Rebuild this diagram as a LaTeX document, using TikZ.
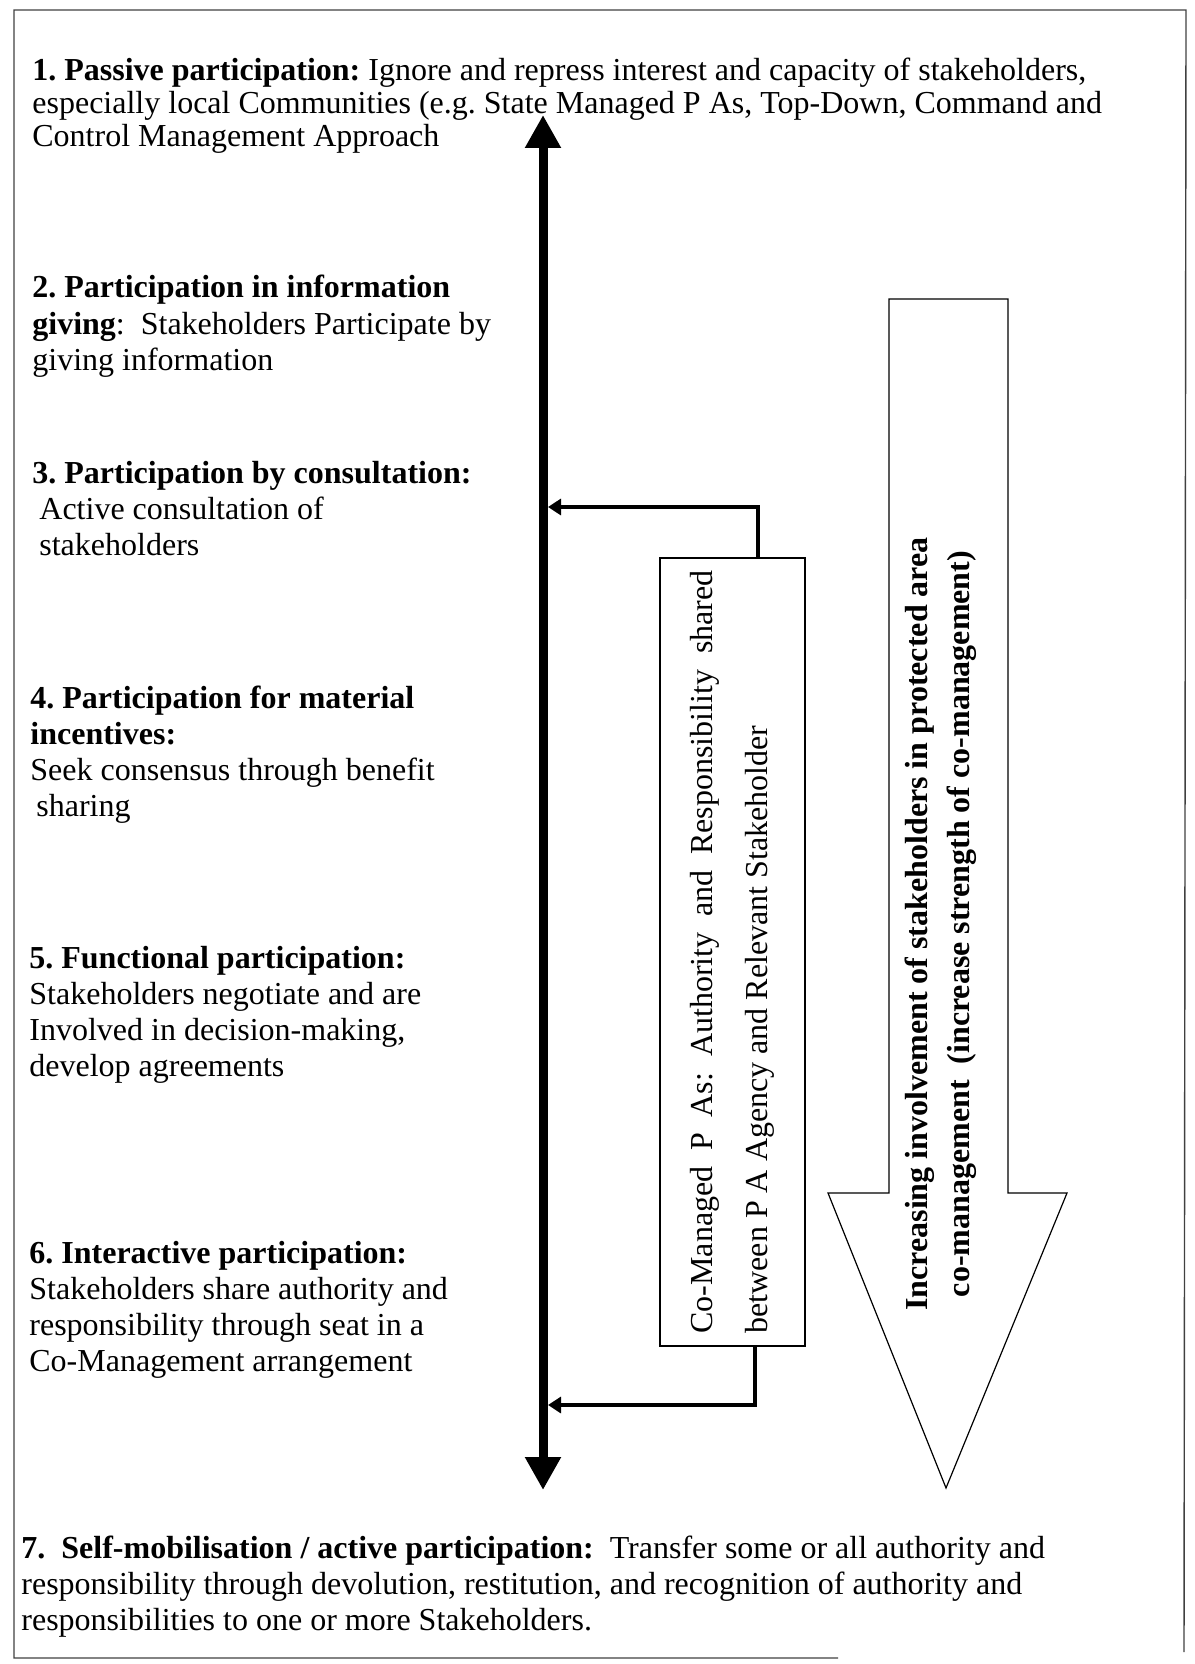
\documentclass[tikz,border=0pt]{standalone}
\usepackage{fontspec}
\setmainfont{Liberation Serif}
\usepackage{tikz}
\usetikzlibrary{arrows.meta}
\frenchspacing

\begin{document}
\begin{tikzpicture}[x=0.5pt, y=-0.5pt,
    level/.style={anchor=base west, align=left, inner sep=0pt, font=\fontsize{16}{18}\selectfont},
    link/.style={line width=2pt, -{Triangle[length=6.5pt,width=8pt]}},
    cobox/.style={draw, line width=0.75pt, rotate=90, inner sep=0pt, minimum width=394pt, minimum height=72.5pt,
        text width=381.5pt, align=justify, font=\fontsize{16}{27.5}\selectfont}]
  \useasboundingbox (0,0) rectangle (1194,1664);
  % frame of the scan
  \draw[line width=0.7pt, black!75] (838,1658) -- (14,1658) -- (14,10) -- (1186,10) -- (1184,1652);
  % the seven levels (placed at the baseline of their last line)
  \node[level, font=\fontsize{16}{16.5}\selectfont] (lev1) at (32,147) {\textbf{1. Passive participation:} Ignore and repress interest and capacity of stakeholders,\\
    especially local Communities (e.g. State Managed P As, Top-Down, Command and\\ Control Management Approach};
  \node[level] (lev2) at (32,370) {\textbf{2. Participation in information}\\ \textbf{giving}:\ \ Stakeholders Participate by\\ giving information};
  \node[level] (lev3) at (32,555) {\textbf{3. Participation by consultation:}\\ \hspace{3.5pt}Active consultation of\\ \hspace{3.5pt}stakeholders};
  \node[level] (lev4) at (30,816) {\textbf{4. Participation for material}\\ \textbf{incentives:}\\ Seek consensus through benefit\\ \hspace{3pt}sharing};
  \node[level] (lev5) at (29,1076) {\textbf{5. Functional participation:}\\ Stakeholders negotiate and are\\ Involved in decision-making,\\ develop agreements};
  \node[level] (lev6) at (29,1371) {\textbf{6. Interactive participation:}\\ Stakeholders share authority and\\ responsibility through seat in a\\ Co-Management arrangement};
  \node[level] (lev7) at (21,1630) {\textbf{7.\ \ Self-mobilisation / active participation:}\ \ Transfer some or all authority and\\
    responsibility through devolution, restitution, and recognition of authority and\\ responsibilities to one or more Stakeholders.};
  % the scale
  \coordinate (top) at (543,115);
  \coordinate (bot) at (543,1490);
  \draw[line width=4.5pt, {Triangle[length=16.5pt,width=17pt]}-{Triangle[length=16.5pt,width=17pt]}] (top) -- (bot);
  % co-managed P As
  \node[cobox] (comgd) at (732.5,952) {Co-Managed P As: Authority and Responsibility shared\linebreak between P A Agency and Relevant Stakeholder};
  \coordinate (hi) at (548,507);
  \coordinate (lo) at (548,1405);
  \draw[link] ([xshift=12.75pt]comgd.east) |- (hi);
  \draw[link] ([xshift=11.25pt]comgd.west) |- (lo);
  % big arrow
  \draw[line width=0.6pt] (889,299) -- (1008,299) -- (1008,1193) -- (1067,1193) -- (946,1488) -- (828,1193) -- (889,1193) -- cycle;
  \node[rotate=90, align=center, inner sep=0pt, font=\fontsize{16}{21}\selectfont\bfseries] (trend) at (941,924)
    {Increasing involvement of stakeholders in protected area\\ co-management\ \ (increase strength of co-management)};
\end{tikzpicture}
\end{document}
